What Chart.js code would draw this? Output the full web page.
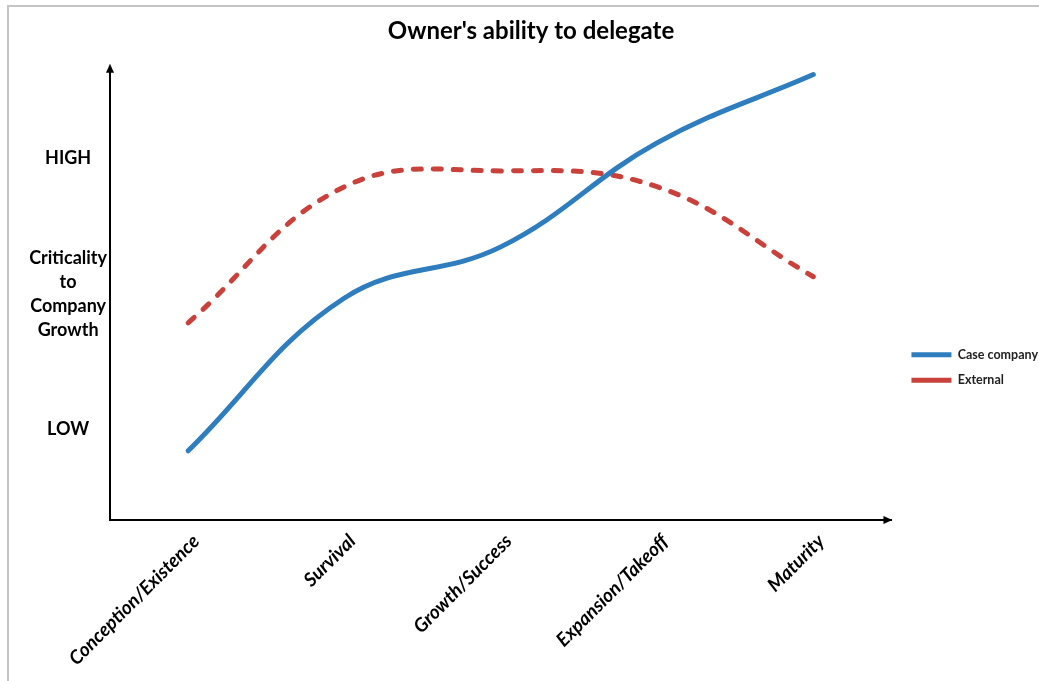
<!DOCTYPE html>
<html>
<head>
<meta charset="utf-8">
<script src="https://cdn.jsdelivr.net/npm/chart.js@4.4.1/dist/chart.umd.min.js"></script>
<style>
  html, body { margin: 0; padding: 0; background: #fff; overflow: hidden; }
  #wrap { position: absolute; left: 0; top: 0; width: 1039px; height: 681px; }
</style>
</head>
<body>
<div id="wrap"><canvas id="chart" width="1039" height="681"></canvas></div>
<script>
const categories = ["Conception/Existence", "Survival", "Growth/Success", "Expansion/Takeoff", "Maturity"];
const caseCompany = [1.53, 4.91, 6.04, 8.34, 9.85];
const external = [4.36, 7.37, 7.72, 7.37, 5.38];
const yTickValues = [2, 5, 8];
const yTickLabels = ["LOW", ["Criticality", "to", "Company", "Growth"], "HIGH"];

const FONT = "Lato, 'Open Sans', sans-serif";

// grey picture frame (top + left edge), arrow heads on both axes,
// and a small nudge of the legend to the right
const axisArrows = {
  id: "axisArrows",
  afterLayout(chart) {
    chart.legend.left += 7;
    chart.legend.right += 7;
  },
  beforeDraw(chart) {
    const { ctx, width, height } = chart;
    ctx.save();
    ctx.fillStyle = "#c4c4c4";
    ctx.fillRect(7, 5, width - 7, 2);
    ctx.fillRect(7, 5, 2, height - 5);
    ctx.restore();
  },
  afterDraw(chart) {
    const { ctx, chartArea: a } = chart;
    ctx.save();
    ctx.fillStyle = "#000";
    ctx.beginPath();
    ctx.moveTo(a.left, a.top - 4);
    ctx.lineTo(a.left - 4, a.top + 5);
    ctx.lineTo(a.left + 4, a.top + 5);
    ctx.closePath();
    ctx.fill();
    ctx.beginPath();
    ctx.moveTo(a.right + 1, a.bottom);
    ctx.lineTo(a.right - 8, a.bottom - 4);
    ctx.lineTo(a.right - 8, a.bottom + 4);
    ctx.closePath();
    ctx.fill();
    ctx.restore();
  },
};

new Chart(document.getElementById("chart"), {
  type: "line",
  data: {
    labels: categories,
    datasets: [
      {
        label: "Case company",
        data: caseCompany,
        borderColor: "#2e7dbf",
        backgroundColor: "#2e7dbf",
        borderWidth: 5,
        borderCapStyle: "round",
        pointRadius: 0,
        tension: 0.4,
        fill: false,
      },
      {
        label: "External",
        data: external,
        borderColor: "#c9413a",
        backgroundColor: "#c9413a",
        borderWidth: 5,
        borderDash: [8, 12],
        borderCapStyle: "round",
        pointRadius: 0,
        tension: 0.4,
        fill: false,
      },
    ],
  },
  options: {
    responsive: false,
    animation: false,
    layout: { padding: { left: 21, right: -2, top: 0, bottom: 0 } },
    plugins: {
      title: {
        display: true,
        text: "Owner's ability to delegate",
        color: "#000",
        font: { family: FONT, size: 24, weight: "bold" },
        padding: { top: 17, bottom: 22 },
      },
      legend: {
        position: "right",
        title: { display: true, text: "", font: { size: 10 }, padding: { top: 42, bottom: 0 } },
        labels: {
          usePointStyle: true,
          pointStyle: "line",
          pointStyleWidth: 40,
          color: "#222",
          font: { family: FONT, size: 12.5, weight: "bold" },
          padding: 13,
        },
      },
      tooltip: { enabled: false },
    },
    scales: {
      x: {
        offset: true,
        grid: { display: false, drawTicks: false },
        border: { display: true, color: "#000", width: 2 },
        ticks: {
          color: "#000",
          maxRotation: 45,
          minRotation: 45,
          padding: 10,
          labelOffset: 8,
          font: { family: FONT, size: 19, weight: "bold", style: "italic" },
        },
        afterFit: (axis) => { axis.height = 161; },
      },
      y: {
        min: 0,
        max: 10,
        grid: { display: false, drawTicks: false },
        border: { display: true, color: "#000", width: 2 },
        afterBuildTicks: (axis) => {
          axis.ticks = yTickValues.map((v) => ({ value: v }));
        },
        ticks: {
          color: "#000",
          crossAlign: "center",
          padding: 3,
          font: { family: FONT, size: 18, weight: "bold", lineHeight: 1.34 },
          callback: (v) => yTickLabels[yTickValues.indexOf(v)],
        },
        afterFit: (axis) => { axis.width = 89; },
      },
    },
  },
  plugins: [axisArrows],
});
</script>
</body>
</html>
